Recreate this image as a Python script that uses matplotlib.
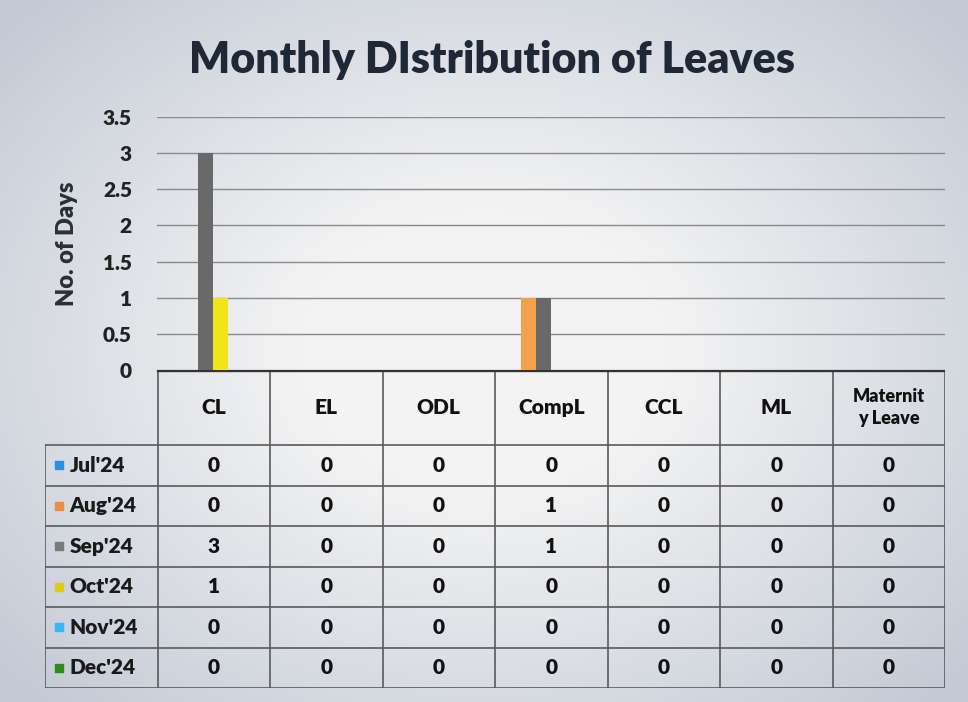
import matplotlib
matplotlib.use("Agg")
import matplotlib.pyplot as plt
import numpy as np

plt.rcParams["font.family"] = ["Lato", "DejaVu Sans"]
plt.rcParams["font.weight"] = "heavy"

leave_types = ["CL", "EL", "ODL", "CompL", "CCL", "ML", "Maternit\ny Leave"]
months = ["Jul'24", "Aug'24", "Sep'24", "Oct'24", "Nov'24", "Dec'24"]
jul = [0, 0, 0, 0, 0, 0, 0]
aug = [0, 0, 0, 1, 0, 0, 0]
sep = [3, 0, 0, 1, 0, 0, 0]
oct_ = [1, 0, 0, 0, 0, 0, 0]
nov = [0, 0, 0, 0, 0, 0, 0]
dec = [0, 0, 0, 0, 0, 0, 0]
series = [jul, aug, sep, oct_, nov, dec]
bar_colors = ["#2a8fe0", "#f2a04a", "#696969", "#f0e41a", "#38b8f2", "#2e8b1e"]
key_colors = ["#2a8fe0", "#ee8a4a", "#7a7a7a", "#e2c81a", "#38b8f2", "#2e8b1e"]
yticks = [0, 0.5, 1, 1.5, 2, 2.5, 3, 3.5]

W, H = 968, 702
fig = plt.figure(figsize=(W / 100, H / 100), dpi=100)
fig.patch.set_facecolor("#d4d8df")

# photo-like lighting: bright centre, greyer edges
bg = fig.add_axes([0, 0, 1, 1], zorder=-10)
gx, gy = np.meshgrid(np.linspace(-1, 1, 200), np.linspace(-1, 1, 150))
r = np.clip(np.sqrt((gx * 0.95) ** 2 + (gy * 0.9) ** 2), 0, 1.4)
light = np.array([0.955, 0.955, 0.955])
dark = np.array([0.74, 0.77, 0.82])
img = light + (dark - light) * (np.clip(r - 0.35, 0, None) / 1.05)[..., None]
bg.imshow(img, extent=[0, 1, 0, 1], aspect="auto", interpolation="bilinear")
bg.axis("off")

# chart area
ax = fig.add_axes([157 / W, (H - 370) / H, (945 - 157) / W, (370 - 117) / H])
ax.patch.set_alpha(0)
x = np.arange(len(leave_types))
bw = 0.135
for i, (vals, c) in enumerate(zip(series, bar_colors)):
    ax.bar(x + (i - 2.5) * bw, vals, width=bw, color=c, zorder=3)
ax.set_xlim(-0.5, len(leave_types) - 0.5)
ax.set_ylim(0, 3.5)
ax.set_yticks(yticks)
ax.set_yticklabels([f"{t:g}" for t in yticks], fontsize=15, fontweight="heavy", color="#222222")
ax.set_xticks([])
ax.tick_params(axis="y", length=0, pad=18)
ax.grid(axis="y", color="#8a8a8a", linewidth=1.0, zorder=0)
for s in ["left", "right", "top", "bottom"]:
    ax.spines[s].set_visible(False)
ax.set_ylabel("No. of Days", fontsize=17, fontweight="heavy", color="#2a2e36", labelpad=18)

fig.text(492 / W, 1 - 60 / H, "Monthly DIstribution of Leaves", ha="center", va="center",
         fontsize=31, fontweight="heavy", color="#1e2836")

# data table below chart
tab = fig.add_axes([45 / W, (H - 688) / H, 900 / W, (688 - 370) / H])
tab.patch.set_alpha(0)
tab.set_xlim(-1.5, len(leave_types) - 0.5)
head_h = 75
row_h = (318 - head_h) / len(months)
tab.set_ylim(318, 0)
tab.axis("off")
lc = "#5a5a5a"
tab.plot([-0.5, len(leave_types) - 0.5], [0, 0], color="#333333", lw=2.4, zorder=2)
for k in range(len(leave_types) + 1):
    tab.plot([k - 0.5, k - 0.5], [0, 318], color=lc, lw=1.2, zorder=1)
tab.plot([-1.5, -1.5], [head_h, 318], color=lc, lw=1.2, zorder=1)
for rr in range(len(months) + 1):
    y = head_h + rr * row_h
    tab.plot([-1.5, len(leave_types) - 0.5], [y, y], color=lc, lw=1.2, zorder=1)

for j, name in enumerate(leave_types):
    fs = 13 if "\n" in name else 15
    tab.text(j, head_h / 2, name, ha="center", va="center", fontsize=fs,
             fontweight="heavy", color="#111111", linespacing=1.3)

for i, m in enumerate(months):
    yc = head_h + (i + 0.5) * row_h
    tab.scatter([-1.38], [yc], marker="s", s=40, color=key_colors[i], zorder=3)
    tab.text(-1.28, yc, m, ha="left", va="center", fontsize=15, fontweight="heavy", color="#1a1a1a")
    for j, v in enumerate(series[i]):
        tab.text(j, yc, str(v), ha="center", va="center", fontsize=15,
                 fontweight="heavy", color="#111111")

fig.savefig("out.png", dpi=100, facecolor=fig.get_facecolor())
